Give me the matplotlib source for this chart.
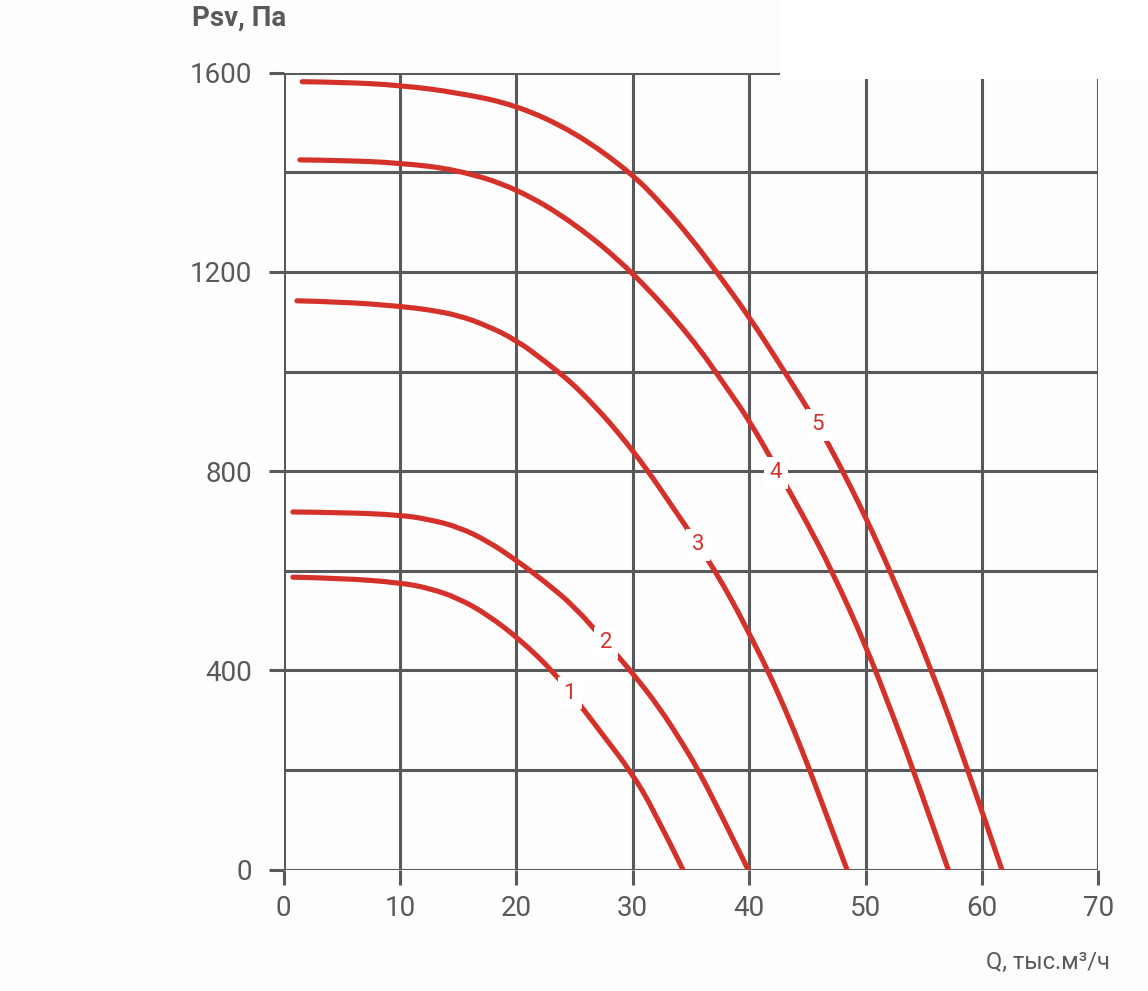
import matplotlib
matplotlib.use("Agg")
import matplotlib.pyplot as plt
from matplotlib.patches import Rectangle, PathPatch
from matplotlib.path import Path

plt.rcParams['font.family'] = ['Roboto', 'DejaVu Sans']

# curve data: Q (thousand m3/h), Psv (Pa)
q1 = [0.8, 5, 10, 12.5, 15, 17.5, 20.3, 23.2, 25.6, 27.5, 29.8, 31.8, 34.3]
p1 = [587, 585, 576, 565, 545, 512, 462, 397, 327, 268, 198, 120, 0]

q2 = [0.8, 5, 10, 12.5, 15, 17.5, 20, 22.5, 25, 27.7, 30, 32.3, 34.3, 35.5, 37.5, 39.9]
p2 = [718, 717, 712, 703, 688, 660, 621, 577, 528, 456, 394, 325, 252, 205, 115, 0]

q3 = [1.15, 5, 10, 12.5, 15, 17.5, 20, 22.5, 25.5, 30, 34.6, 36.5, 38.35, 40, 41.6, 43.5, 45.2, 46.9, 48.4]
p3 = [1142, 1140, 1131, 1124, 1113, 1092, 1063, 1020, 963, 845, 688, 621, 548, 474, 400, 300, 200, 93, 0]

q4 = [1.4, 5, 10, 15, 20, 25, 30, 35, 38.2, 40, 42.3, 45, 47.1, 50, 52.5, 54.1, 57.1]
p4 = [1425, 1424, 1419, 1405, 1368, 1298, 1200, 1070, 963, 902, 808, 695, 600, 451, 300, 200, 0]

q5 = [1.6, 5, 10, 15, 20, 25, 29.8, 32.5, 35, 37.2, 40, 42.9, 45.9, 47.8, 50, 52.1, 55.7, 58.8, 61.7]
p5 = [1582, 1581, 1575, 1560, 1535, 1481, 1400, 1336, 1268, 1200, 1110, 1005, 893, 811, 708, 600, 400, 200, 0]

curves = [(q1, p1), (q2, p2), (q3, p3), (q4, p4), (q5, p5)]
curve_labels = ['1', '2', '3', '4', '5']
label_q = [24.6, 27.7, 35.6, 42.3, 45.9]
label_p = [354, 455, 652, 797, 893]

x_ticks = [0, 10, 20, 30, 40, 50, 60, 70]
y_ticks = [0, 400, 800, 1200, 1600]
y_grid = [0, 200, 400, 600, 800, 1000, 1200, 1400, 1600]

gray = '#58595b'
red = '#d3312a'


def smooth_path(q, p):
    # quadratic bezier through the midpoints, read points act as control points
    verts = [(q[0], p[0])]
    codes = [Path.MOVETO]
    for i in range(1, len(q) - 1):
        if i < len(q) - 2:
            end = ((q[i] + q[i + 1]) / 2, (p[i] + p[i + 1]) / 2)
        else:
            end = (q[i + 1], p[i + 1])
        verts += [(q[i], p[i]), end]
        codes += [Path.CURVE3, Path.CURVE3]
    return Path(verts, codes)


fig = plt.figure(figsize=(11.48, 9.91), dpi=100, facecolor='#fdfdfd')
ax = fig.add_axes([0.2470, 0.1226, 0.7098, 0.8040])
ax.set_facecolor('#fdfdfd')

ax.set_xlim(0, 70)
ax.set_ylim(0, 1600)
for s in ax.spines.values():
    s.set_visible(False)

for x in x_ticks:
    ax.axvline(x, color=gray, lw=2.2, zorder=1)
for y in y_grid:
    ax.axhline(y, color=gray, lw=2.2, zorder=1)

ax.set_xticks(x_ticks)
ax.set_yticks(y_ticks)
ax.set_yticks(y_grid, minor=True)
ax.tick_params(axis='both', which='both', length=10.5, width=2.2, color=gray,
               labelcolor=gray, labelsize=20)
ax.tick_params(axis='x', which='major', pad=8)
ax.tick_params(axis='y', which='major', pad=12)
ax.tick_params(axis='y', which='minor', length=0)

for (q, p) in curves:
    ax.add_patch(PathPatch(smooth_path(q, p), fill=False, edgecolor=red, lw=3.7,
                           capstyle='round', zorder=3))

for lab, lq, lp in zip(curve_labels, label_q, label_p):
    ax.text(lq, lp, lab, color=red, fontsize=16, ha='center', va='center', zorder=4,
            bbox=dict(boxstyle='square,pad=0.25', fc='white', ec='none'))

fig.text(192 / 1148, 1 - 18 / 991, 'Psv, Па', color=gray, fontsize=20,
         fontweight='bold', ha='left', va='center')
fig.text(1110 / 1148, 1 - 962 / 991, 'Q, тыс.м³/ч', color=gray, fontsize=17,
         ha='right', va='center')

# white block at top right as in the reference
fig.patches.append(Rectangle((780 / 1148, 1 - 79 / 991), 1, 1, transform=fig.transFigure,
                             facecolor='white', edgecolor='none', zorder=10))

fig.savefig('out.png', dpi=100, facecolor=fig.get_facecolor())
